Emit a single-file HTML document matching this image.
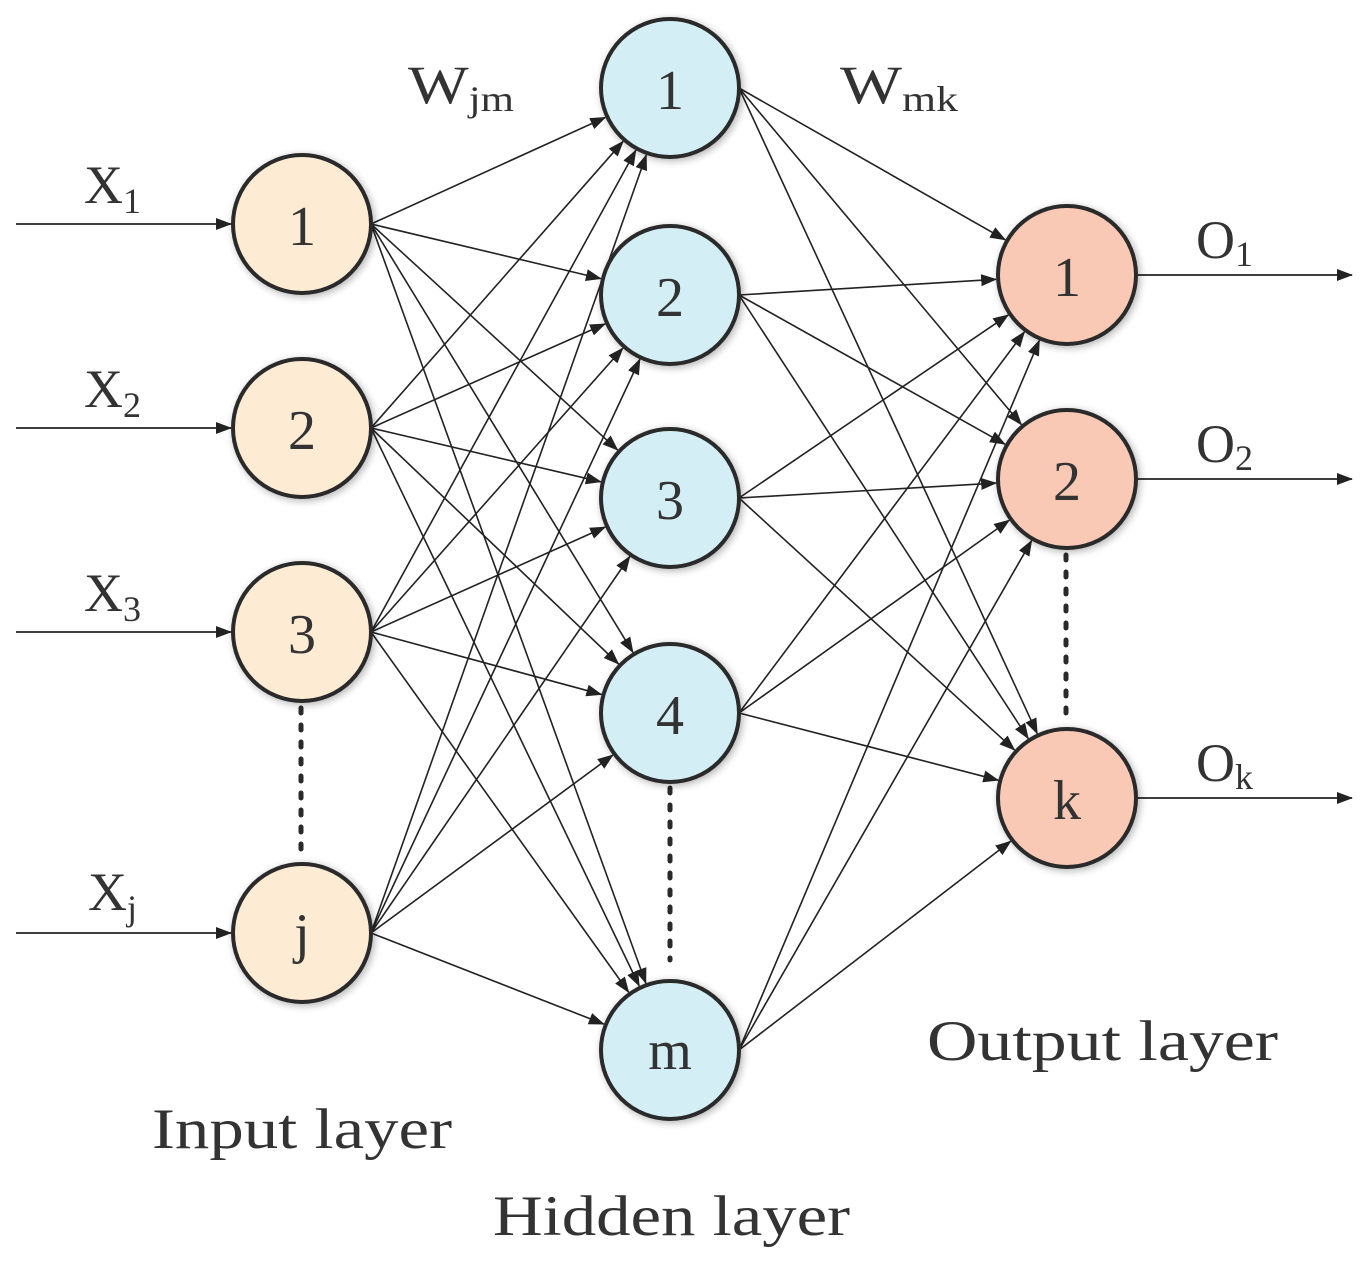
<!DOCTYPE html>
<html><head><meta charset="utf-8"><style>
html,body{margin:0;padding:0;background:#fff;}
svg{display:block;}
text{font-family:"Liberation Serif",serif;fill:#333;}
</style></head><body>
<svg id="s" width="1368" height="1279" viewBox="0 0 1368 1279" xmlns="http://www.w3.org/2000/svg">
<defs>
<marker id="a" markerWidth="16" markerHeight="12" refX="15" refY="6" orient="auto" markerUnits="userSpaceOnUse">
<path d="M0,0 L16,6 L0,12 Z" fill="#222"/>
</marker>
<filter id="sh" x="-20%" y="-20%" width="140%" height="140%"><feGaussianBlur in="SourceAlpha" stdDeviation="4"/><feOffset dx="2" dy="2"/><feComponentTransfer><feFuncA type="linear" slope="0.3"/></feComponentTransfer><feMerge><feMergeNode/><feMergeNode in="SourceGraphic"/></feMerge></filter>
</defs>
<g id="edges" stroke="#222" stroke-width="1.6" fill="none"></g>
<g stroke="#222" stroke-width="1.8" fill="none" marker-end="url(#a)">
<line x1="16" y1="224" x2="231" y2="224"/>
<line x1="16" y1="428" x2="231" y2="428"/>
<line x1="16" y1="632" x2="231" y2="632"/>
<line x1="16" y1="933" x2="231" y2="933"/>
<line x1="1137" y1="275" x2="1352" y2="275"/>
<line x1="1137" y1="479" x2="1352" y2="479"/>
<line x1="1137" y1="798" x2="1352" y2="798"/>
</g>
<g stroke="#2a2a2a" stroke-width="5" stroke-dasharray="5,12" stroke-linecap="round">
<line x1="301" y1="708" x2="301" y2="850"/>
<line x1="670" y1="788" x2="670" y2="960"/>
<line x1="1066" y1="555" x2="1066" y2="725"/>
</g>
<g stroke="#2a2a2a" stroke-width="4" filter="url(#sh)">
<circle cx="302" cy="224" r="69" fill="#fdebd3"/>
<circle cx="302" cy="428" r="69" fill="#fdebd3"/>
<circle cx="302" cy="632" r="69" fill="#fdebd3"/>
<circle cx="302" cy="933" r="69" fill="#fdebd3"/>
<circle cx="670" cy="88" r="69" fill="#d3eff5"/>
<circle cx="670" cy="295" r="69" fill="#d3eff5"/>
<circle cx="670" cy="498" r="69" fill="#d3eff5"/>
<circle cx="670" cy="713" r="69" fill="#d3eff5"/>
<circle cx="670" cy="1050" r="69" fill="#d3eff5"/>
<circle cx="1067" cy="275" r="69" fill="#f9c9b6"/>
<circle cx="1067" cy="479" r="69" fill="#f9c9b6"/>
<circle cx="1067" cy="798" r="69" fill="#f9c9b6"/>
</g>
<g font-size="56" text-anchor="middle">
<text x="302" y="245">1</text><text x="302" y="449">2</text><text x="302" y="653">3</text><text x="302" y="952">j</text>
<text x="670" y="109">1</text><text x="670" y="316">2</text><text x="670" y="519">3</text><text x="670" y="734">4</text><text x="670" y="1069">m</text>
<text x="1067" y="296">1</text><text x="1067" y="500">2</text><text x="1067" y="819">k</text>
</g>
<g font-size="54">
<text x="84" y="203">X<tspan font-size="36" dy="10">1</tspan></text>
<text x="84" y="407">X<tspan font-size="36" dy="10">2</tspan></text>
<text x="84" y="611">X<tspan font-size="36" dy="10">3</tspan></text>
<text x="88" y="910">X<tspan font-size="36" dy="10">j</tspan></text>
<text x="408" y="103" textLength="106" lengthAdjust="spacingAndGlyphs">W<tspan font-size="36" dy="8">jm</tspan></text>
<text x="840" y="103" textLength="118" lengthAdjust="spacingAndGlyphs">W<tspan font-size="36" dy="8">mk</tspan></text>
<text x="1196" y="258">O<tspan font-size="36" dy="8">1</tspan></text>
<text x="1196" y="462">O<tspan font-size="36" dy="8">2</tspan></text>
<text x="1196" y="781">O<tspan font-size="36" dy="8">k</tspan></text>
<text x="152" y="1148" font-size="57" textLength="300" lengthAdjust="spacingAndGlyphs">Input layer</text>
<text x="493" y="1235" font-size="57" textLength="357" lengthAdjust="spacingAndGlyphs">Hidden layer</text>
<text x="927" y="1060" font-size="57" textLength="351" lengthAdjust="spacingAndGlyphs">Output layer</text>
</g>
</svg>
<script>
var inp=[224,428,632,933],hid=[88,295,498,713,1050],out=[275,479,798];
var g=document.getElementById('edges'),r=71;
function ln(x1,y1,cx,cy){var dx=cx-x1,dy=cy-y1,d=Math.sqrt(dx*dx+dy*dy);
var x2=cx-dx/d*r,y2=cy-dy/d*r;
var l=document.createElementNS('http://www.w3.org/2000/svg','line');
l.setAttribute('x1',x1);l.setAttribute('y1',y1);l.setAttribute('x2',x2);l.setAttribute('y2',y2);
l.setAttribute('marker-end','url(#a)');g.appendChild(l);}
inp.forEach(function(a){hid.forEach(function(b){ln(371,a,670,b);});});
hid.forEach(function(a){out.forEach(function(b){ln(739,a,1067,b);});});
</script>
</body></html>
